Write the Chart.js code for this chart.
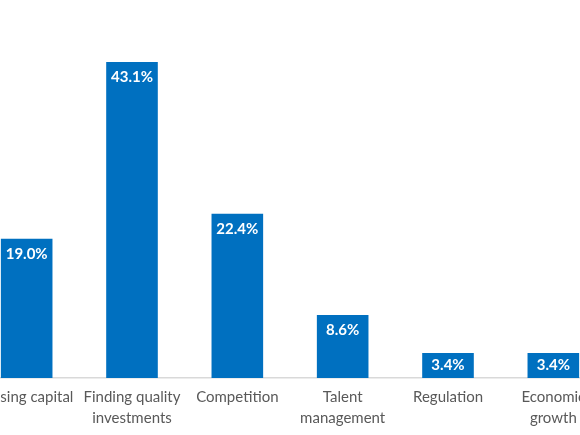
<!DOCTYPE html>
<html><head><meta charset="utf-8">
<script src="https://cdn.jsdelivr.net/npm/chart.js@4"></script>
<style>
html,body{margin:0;padding:0;background:#fff;overflow:hidden;width:580px;height:435px;}
#wrap{position:absolute;left:-26px;top:0;width:632px;height:435px;}
</style></head><body>
<div id="wrap"><canvas id="c"></canvas></div>
<script>
const categories = [["Raising capital"], ["Finding quality", "investments"], ["Competition"], ["Talent", "management"], ["Regulation"], ["Economic", "growth"]];
const values = [19.0, 43.1, 22.4, 8.6, 3.4, 3.4];
const valueLabels = ["19.0%", "43.1%", "22.4%", "8.6%", "3.4%", "3.4%"];

const labelPlugin = {
  id: 'valueLabels',
  afterDatasetsDraw(chart) {
    const ctx = chart.ctx;
    const meta = chart.getDatasetMeta(0);
    ctx.save();
    ctx.fillStyle = '#ffffff';
    ctx.font = 'bold 15px Lato';
    ctx.textAlign = 'center';
    ctx.textBaseline = 'middle';
    meta.data.forEach((bar, i) => {
      const h = bar.base - bar.y;
      const y = h < 30 ? bar.y + h / 2 : bar.y + 15;
      ctx.fillText(valueLabels[i], bar.x, y);
    });
    ctx.restore();
  }
};

new Chart(document.getElementById('c'), {
  type: 'bar',
  data: {
    labels: categories,
    datasets: [{
      data: values,
      backgroundColor: '#0070C0',
      categoryPercentage: 1,
      barPercentage: 0.49
    }]
  },
  options: {
    responsive: true,
    maintainAspectRatio: false,
    animation: false,
    layout: { padding: { top: 11.4, left: 0, right: 0, bottom: 0 } },
    plugins: { legend: { display: false }, tooltip: { enabled: false } },
    scales: {
      x: {
        grid: { display: false, drawTicks: false },
        border: { display: true, color: '#D9D9D9', width: 1.5 },
        ticks: { color: '#595959', font: { family: 'Lato', size: 15, lineHeight: 1.4 }, padding: 9, maxRotation: 0, autoSkip: false },
        afterFit(scale) { scale.height = 57; scale.paddingLeft = 0; scale.paddingRight = 0; }
      },
      y: { display: false, min: 0, max: 50 }
    }
  },
  plugins: [labelPlugin]
});
</script>
</body></html>
